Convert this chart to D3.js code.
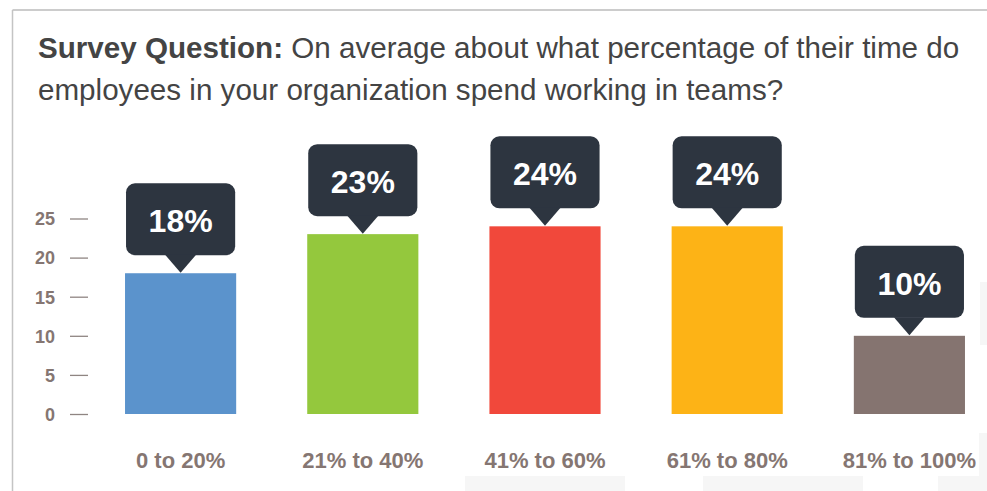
<!DOCTYPE html>
<html lang="en">
<head>
    <meta charset="UTF-8">
    <title>Survey Question</title>
    <script src="https://cdn.jsdelivr.net/npm/d3@7/dist/d3.min.js"></script>
    <style>
        body { margin: 0; background: #fff; }
        text { font-family: "Liberation Sans", Arial, sans-serif; }
    </style>
</head>
<body>
<script>

    var categories = ["0 to 20%", "21% to 40%", "41% to 60%", "61% to 80%", "81% to 100%"];
    var values = [18, 23, 24, 24, 10];
    var labels = ["18%", "23%", "24%", "24%", "10%"];
    var colors = ["#5b93cc", "#94c83d", "#f1483b", "#fdb316", "#857470"];
    var yTicks = [0, 5, 10, 15, 20, 25];

    var width = 987, height = 491;

    var svg = d3.select("body")
            .append("svg")
            .attr("width", width)
            .attr("height", height);

    // faint page bits at the bottom / right
    var faint = [[465, 476, 160, 20], [703, 476, 160, 20], [938, 476, 60, 20], [979, 433, 10, 60], [980, 282, 10, 63]];
    svg.selectAll(".faint")
            .data(faint)
            .enter()
            .append("rect")
            .attr("class", "faint")
            .attr("x", function(d) { return d[0]; })
            .attr("y", function(d) { return d[1]; })
            .attr("width", function(d) { return d[2]; })
            .attr("height", function(d) { return d[3]; })
            .style("fill", "#f6f6f6");

    // frame
    svg.append("line")
            .attr("x1", 12.5).attr("y1", 10).attr("x2", width).attr("y2", 10)
            .style("stroke", "#cccccc").style("stroke-width", 2);
    svg.append("line")
            .attr("x1", 12.5).attr("y1", 10).attr("x2", 12.5).attr("y2", height)
            .style("stroke", "#c4c4c4").style("stroke-width", 1.5);

    // title
    var title = svg.append("text")
            .attr("x", 38)
            .attr("y", 57.5)
            .style("font-size", "29.6px")
            .style("fill", "#444444");
    title.append("tspan").style("font-weight", "bold").text("Survey Question:");
    title.append("tspan").text(" On average about what percentage of their time do");
    svg.append("text")
            .attr("x", 38)
            .attr("y", 100)
            .style("font-size", "29.6px")
            .style("fill", "#444444")
            .text("employees in your organization spend working in teams?");

    var x = d3.scaleBand()
            .domain(categories)
            .range([89.5, 1000.5])
            .paddingInner(0.39)
            .paddingOuter(0.195);

    var y = d3.scaleLinear()
            .domain([0, 25])
            .range([414, 218.5]);

    // y axis
    var yAxis = d3.axisRight(y)
            .tickValues(yTicks)
            .tickSize(0)
            .tickPadding(0);

    var gy = svg.append("g").call(yAxis);
    gy.select(".domain").remove();
    gy.selectAll(".tick text").remove();
    gy.selectAll(".tick").append("line")
            .attr("x1", 70).attr("x2", 88)
            .style("stroke", "#8f8582").style("stroke-width", 1.3);
    gy.selectAll(".tick").append("text")
            .attr("x", 55)
            .attr("dy", "0.35em")
            .attr("text-anchor", "end")
            .style("font-size", "18px")
            .style("font-weight", "bold")
            .style("fill", "#857672")
            .text(function(d) { return d; });

    // bars
    svg.selectAll(".bar")
            .data(values)
            .enter()
            .append("rect").attr("class", "bar")
            .attr("x", function(d, i) { return x(categories[i]); })
            .attr("y", function(d) { return y(d); })
            .attr("width", x.bandwidth())
            .attr("height", function(d) { return y(0) - y(d); })
            .style("fill", function(d, i) { return colors[i]; });

    // callouts
    var bw = x.bandwidth();
    var callout = svg.selectAll(".callout")
            .data(values)
            .enter()
            .append("g").attr("class", "callout")
            .attr("transform", function(d, i) {
                return "translate(" + (x(categories[i]) + bw / 2) + "," + y(d) + ")";
            });

    callout.append("rect")
            .attr("x", -bw / 2 + 1)
            .attr("y", -90)
            .attr("width", bw - 2)
            .attr("height", 72)
            .attr("rx", 9)
            .style("fill", "#2d3540");

    callout.append("path")
            .attr("d", "M-15.5,-18.5 L15.5,-18.5 L0,-0.5 Z")
            .style("fill", "#2d3540");

    callout.append("text")
            .attr("y", -41)
            .attr("text-anchor", "middle")
            .style("font-size", "32px")
            .style("font-weight", "bold")
            .style("fill", "#ffffff")
            .text(function(d, i) { return labels[i]; });

    // x labels
    svg.selectAll(".xlabel")
            .data(categories)
            .enter()
            .append("text").attr("class", "xlabel")
            .attr("x", function(d) { return x(d) + bw / 2; })
            .attr("y", 468)
            .attr("text-anchor", "middle")
            .style("font-size", "22px")
            .style("font-weight", "bold")
            .style("fill", "#857672")
            .text(function(d) { return d; });

</script>
</body>
</html>
